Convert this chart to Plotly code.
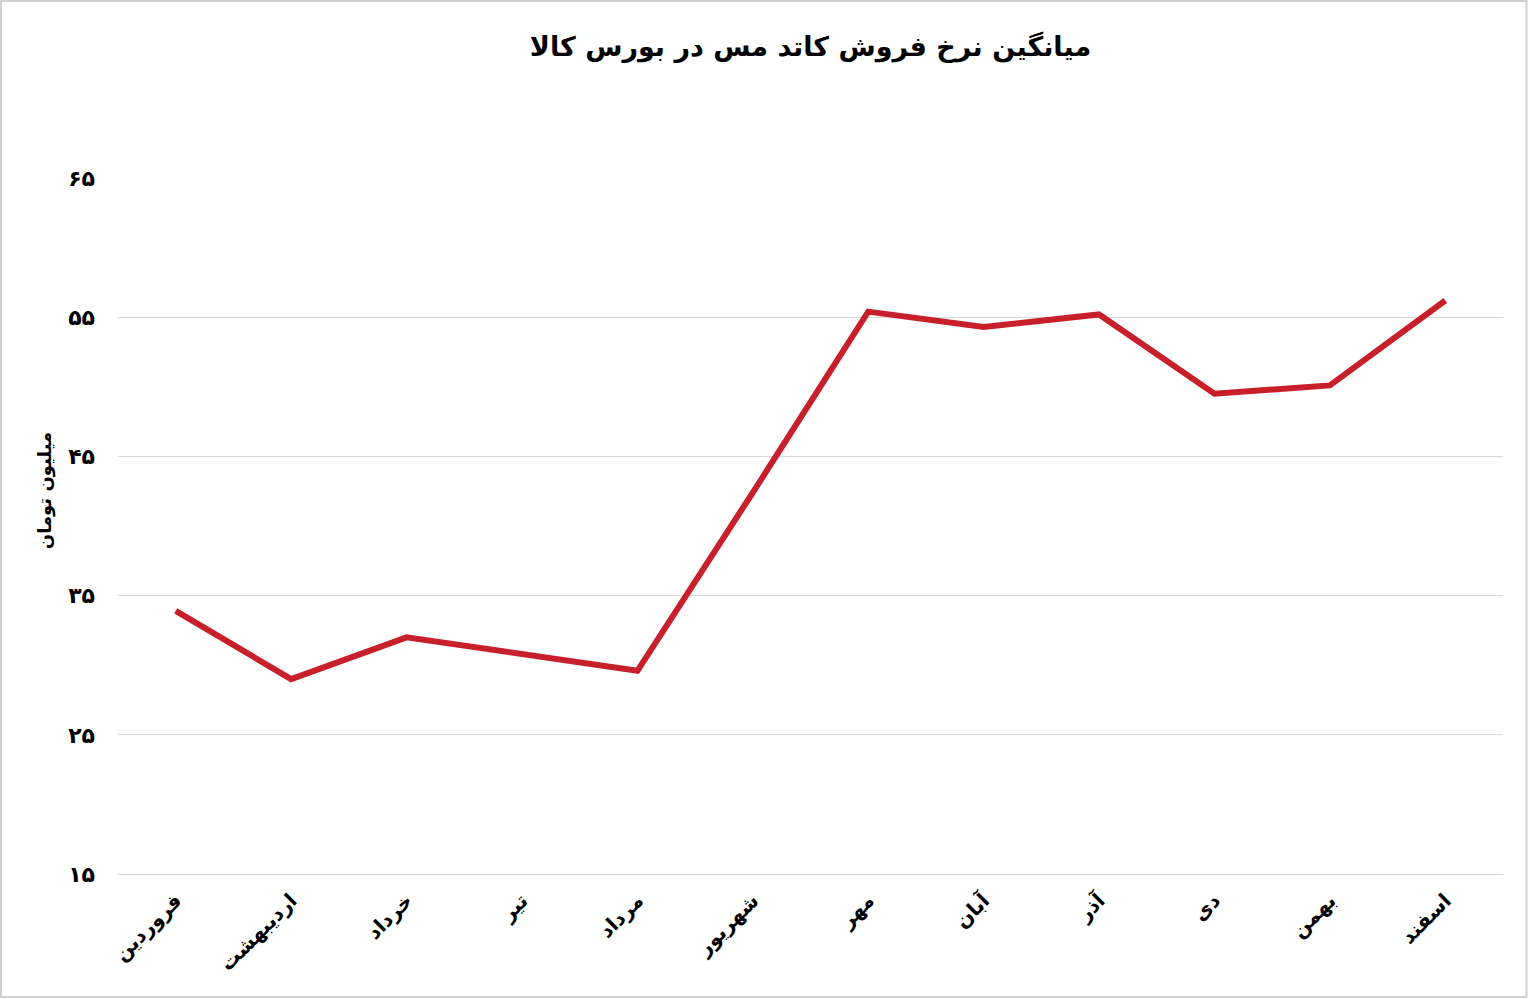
import plotly.graph_objects as go

months = ["فروردین", "اردیبهشت", "خرداد", "تیر", "مرداد", "شهریور",
          "مهر", "آبان", "آذر", "دی", "بهمن", "اسفند"]
prices = [33.9, 29.0, 32.0, 30.8, 29.6, 42.4, 55.4, 54.3, 55.2, 49.5, 50.1, 56.2]
y_ticks = [15, 25, 35, 45, 55, 65]
y_tick_text = ["۱۵", "۲۵", "۳۵", "۴۵", "۵۵", "۶۵"]
title_text = "میانگین نرخ فروش کاتد مس در بورس کالا"
y_title = "میلیون تومان"

W, H = 1528, 999
ML, MR, MT, MB = 118, 25, 178, 125
FONT = "DejaVu Sans"

fig = go.Figure()
fig.add_trace(go.Scatter(
    x=months, y=prices, mode="lines",
    line=dict(color="#C8202A", width=6),
    hoverinfo="skip", showlegend=False,
))

pw = W - ML - MR
ph = H - MT - MB
fig.update_layout(
    width=W, height=H,
    margin=dict(l=ML, r=MR, t=MT, b=MB),
    paper_bgcolor="white", plot_bgcolor="white",
    font=dict(family=FONT, color="black"),
    title=dict(text="<b>" + title_text + "</b>", x=0.5, xanchor="center",
               xref="paper", y=1 - 47 / H, yanchor="middle",
               font=dict(size=27, family=FONT, color="black")),
    xaxis=dict(
        type="category", tickangle=-45, showgrid=False, zeroline=False,
        showline=True, linecolor="#d9d9d9", linewidth=1,
        ticks="", range=[-0.5, len(months) - 0.5],
        tickfont=dict(size=20, family=FONT, color="black", weight="bold"),
        ticklabelstandoff=6,
    ),
    yaxis=dict(
        range=[15, 65], tickvals=y_ticks, ticktext=y_tick_text,
        showgrid=True, gridcolor="#d9d9d9", gridwidth=1,
        zeroline=False, showline=False, ticks="",
        tickfont=dict(size=22, family=FONT, color="black", weight="bold"),
        ticklabelstandoff=22,
    ),
    annotations=[dict(
        text="<b>" + y_title + "</b>", textangle=-90,
        xref="paper", x=(45 - ML) / pw, xanchor="center",
        yref="y", y=42.5, yanchor="middle", showarrow=False,
        font=dict(size=18, family=FONT, color="black"),
    )],
    shapes=[dict(
        type="rect", xref="paper", yref="paper",
        x0=(1 - ML) / pw, x1=(pw + MR - 1.5) / pw,
        y0=-(MB - 2) / ph, y1=(ph + MT - 1) / ph,
        line=dict(color="#d0d0d0", width=2), fillcolor="rgba(0,0,0,0)",
        layer="below",
    )],
)

fig.write_html("out.html", config={"displayModeBar": False},
               post_script="document.body.style.margin='0';document.body.style.padding='0';")
